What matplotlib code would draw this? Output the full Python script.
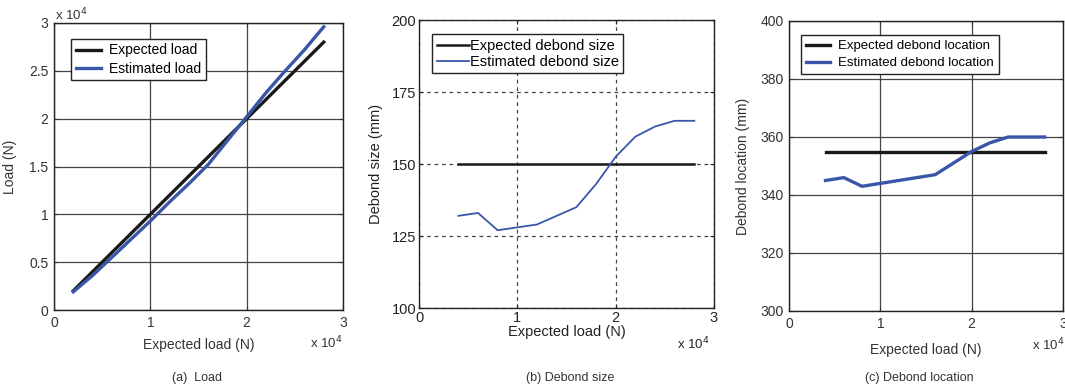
import matplotlib
matplotlib.use("Agg")
import matplotlib.pyplot as plt

plt.rcParams['font.family'] = ['Liberation Sans', 'DejaVu Sans']
plt.rcParams['font.size'] = 9.5

# ---- data (x in units of 1e4 N) ----
load_x = [0.2, 0.4, 0.6, 0.8, 1.0, 1.2, 1.4, 1.6, 1.8, 2.0, 2.2, 2.4, 2.6, 2.8]
load_expected = [0.2, 0.4, 0.6, 0.8, 1.0, 1.2, 1.4, 1.6, 1.8, 2.0, 2.2, 2.4, 2.6, 2.8]
load_estimated = [0.19, 0.36, 0.55, 0.74, 0.93, 1.13, 1.32, 1.52, 1.77, 2.02, 2.27, 2.50, 2.72, 2.96]

size_x = [0.4, 0.5, 0.6, 0.7, 0.8, 1.0, 1.2, 1.4, 1.6, 1.8, 2.0, 2.2, 2.4, 2.6, 2.8]
size_expected = [150] * len(size_x)
size_estimated = [132, 132.5, 133, 130, 127, 128, 129, 132, 135, 143, 152.5, 159.5, 163, 165, 165]

loc_x = [0.4, 0.6, 0.8, 1.0, 1.2, 1.4, 1.6, 1.8, 2.0, 2.2, 2.4, 2.6, 2.8]
loc_expected = [355] * len(loc_x)
loc_estimated = [345, 346, 343, 344, 345, 346, 347, 351, 355, 358, 360, 360, 360]

W, H = 1065, 391
BLUE = '#3a56a8'
BLACK = '#1a1a1a'
TXT = '#333333'

fig = plt.figure(figsize=(W / 100, H / 100), dpi=100)

def add_ax(l, t, r, b):
    return fig.add_axes([l / W, 1 - b / H, (r - l) / W, (b - t) / H])

def style(ax, gridls):
    ax.grid(True, color='#444444', linestyle=gridls, linewidth=0.9)
    ax.set_axisbelow(True)
    ax.tick_params(direction='in', length=3, colors=TXT, labelsize=10, pad=4,
                   top=True, right=True)
    for s in ax.spines.values():
        s.set_color('#222222')
        s.set_linewidth(1.0)

# (a) Load
ax1 = add_ax(54, 23, 343, 310)
ax1.plot(load_x, load_expected, color=BLACK, lw=2.4, label='Expected load')
ax1.plot(load_x, load_estimated, color=BLUE, lw=2.4, label='Estimated load')
ax1.set_xlim(0, 3)
ax1.set_ylim(0, 3)
ax1.set_xticks([0, 1, 2, 3])
ax1.set_yticks([0, 0.5, 1, 1.5, 2, 2.5, 3])
ax1.set_yticklabels(['0', '0.5', '1', '1.5', '2', '2.5', '3'])
style(ax1, '-')
ax1.set_ylabel('Load (N)', color=TXT, fontsize=10, labelpad=9)
ax1.set_xlabel('Expected load (N)', color=TXT, fontsize=10, labelpad=6)
leg = ax1.legend(loc='upper left', bbox_to_anchor=(0.035, 0.97), fancybox=False,
                 edgecolor='#222222', framealpha=1, fontsize=10, handlelength=1.8,
                 handletextpad=0.6, borderpad=0.35, labelspacing=0.3)
leg.get_frame().set_linewidth(1.0)
fig.text(55 / W, 1 - 15 / H, 'x 10$^4$', fontsize=9.5, color=TXT, va='center')
fig.text(310 / W, 1 - 343 / H, 'x 10$^4$', fontsize=9.5, color=TXT, va='center')
fig.text(197 / W, 1 - 378 / H, '(a)  Load', fontsize=9, color=TXT, ha='center', va='center')

# (b) Debond size
ax2 = add_ax(419, 20, 714, 308)
ax2.plot(size_x, size_expected, color=BLACK, lw=1.8, label='Expected debond size')
ax2.plot(size_x, size_estimated, color=BLUE, lw=1.3, label='Estimated debond size')
ax2.set_xlim(0, 3)
ax2.set_ylim(100, 200)
ax2.set_xticks([0, 1, 2, 3])
ax2.set_yticks([100, 125, 150, 175, 200])
style(ax2, (0, (3, 3)))
ax2.tick_params(labelsize=10.5, colors='#222222', pad=2)
ax2.set_ylabel('Debond size (mm)', color='#222222', fontsize=10.5, labelpad=6)
ax2.set_xlabel('Expected load (N)', color='#222222', fontsize=10.5, labelpad=0)
leg = ax2.legend(loc='upper left', bbox_to_anchor=(0.02, 0.975), fancybox=False,
                 edgecolor='#222222', framealpha=1, fontsize=10.5, handlelength=2.2,
                 handletextpad=0.1, borderpad=0.3, labelspacing=0.15)
leg.get_frame().set_linewidth(1.0)
fig.text(677 / W, 1 - 344 / H, 'x 10$^4$', fontsize=9.5, color='#222222', va='center')
fig.text(570 / W, 1 - 378 / H, '(b) Debond size', fontsize=9, color=TXT, ha='center', va='center')

# (c) Debond location
ax3 = add_ax(789, 21, 1063, 311)
ax3.plot(loc_x, loc_expected, color=BLACK, lw=2.4, label='Expected debond location')
ax3.plot(loc_x, loc_estimated, color=BLUE, lw=2.4, label='Estimated debond location')
ax3.set_xlim(0, 3)
ax3.set_ylim(300, 400)
ax3.set_xticks([0, 1, 2, 3])
ax3.set_yticks([300, 320, 340, 360, 380, 400])
style(ax3, '-')
ax3.set_ylabel('Debond location (mm)', color=TXT, fontsize=10, labelpad=7)
ax3.set_xlabel('Expected load (N)', color=TXT, fontsize=10, labelpad=9)
leg = ax3.legend(loc='upper left', bbox_to_anchor=(0.02, 0.975), fancybox=False,
                 edgecolor='#222222', framealpha=1, fontsize=9.5, handlelength=1.8,
                 handletextpad=0.6, borderpad=0.4, labelspacing=0.35)
leg.get_frame().set_linewidth(1.0)
fig.text(1032 / W, 1 - 345 / H, 'x 10$^4$', fontsize=9.5, color=TXT, va='center')
fig.text(919 / W, 1 - 378 / H, '(c) Debond location', fontsize=9, color=TXT, ha='center', va='center')

fig.savefig('out.png', dpi=100)
